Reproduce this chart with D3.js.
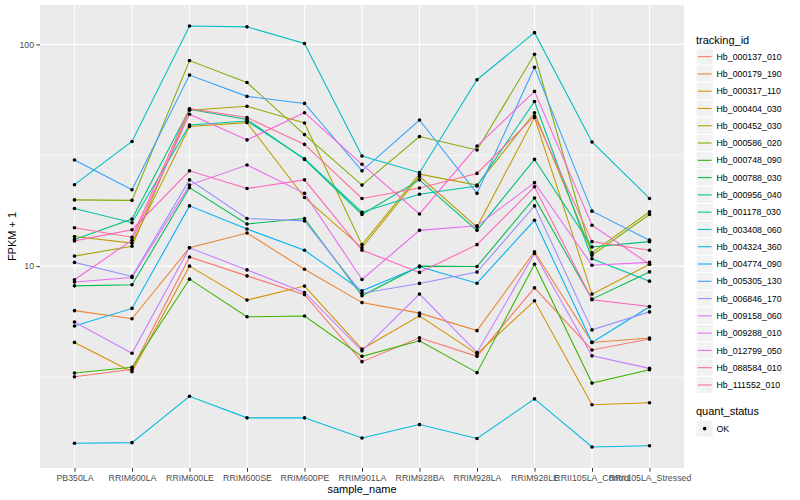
<!DOCTYPE html>
<html>
<head>
<meta charset="utf-8">
<script src="https://cdn.jsdelivr.net/npm/d3@7"></script>
<style>
  body { margin: 0; background: #fff; }
  svg text { font-family: "Liberation Sans", Arial, Helvetica, sans-serif; }
  .axis path { display: none; }
  .axis line { stroke: #333333; }
  .axis text { fill: #4D4D4D; font-size: 8.8px; }
</style>
</head>
<body>
<svg width="800" height="500"></svg>
<script>
var samples = ["PB350LA", "RRIM600LA", "RRIM600LE", "RRIM600SE", "RRIM600PE", "RRIM901LA",
  "RRIM928BA", "RRIM928LA", "RRIM928LE", "RRII105LA_Control", "RRII105LA_Stressed"];

var trackingIds = ["Hb_000137_010", "Hb_000179_190", "Hb_000317_110", "Hb_000404_030", "Hb_000452_030",
  "Hb_000586_020", "Hb_000748_090", "Hb_000788_030", "Hb_000956_040", "Hb_001178_030",
  "Hb_003408_060", "Hb_004324_360", "Hb_004774_090", "Hb_005305_130", "Hb_006846_170",
  "Hb_009158_060", "Hb_009288_010", "Hb_012799_050", "Hb_088584_010", "Hb_111552_010"];

// FPKM + 1, one array per tracking_id, in sample order
var hb000137 = [3.17, 3.43, 11.0, 9.04, 7.43, 3.71, 4.75, 3.92, 7.98, 4.19, 4.69];
var hb000179 = [6.30, 5.79, 12.1, 14.1, 9.69, 6.85, 6.14, 5.12, 11.6, 4.53, 4.74];
var hb000317 = [4.53, 3.34, 10.0, 7.03, 8.13, 4.23, 5.97, 4.02, 6.98, 2.37, 2.42];
var hb000404 = [13.6, 12.7, 42.6, 44.4, 20.4, 12.1, 25.4, 15.0, 46.8, 7.48, 10.2];
var hb000452 = [11.1, 12.3, 50.5, 52.6, 44.2, 12.5, 26.0, 23.2, 49.2, 11.5, 17.6];
var hb000586 = [19.9, 19.8, 84.5, 67.3, 39.2, 23.2, 38.4, 33.4, 90.2, 11.2, 17.1];
var hb000748 = [3.30, 3.50, 8.74, 5.91, 5.96, 3.92, 4.61, 3.31, 10.2, 2.97, 3.41];
var hb000788 = [8.15, 8.24, 22.6, 15.5, 16.4, 7.35, 10.0, 9.97, 20.3, 7.10, 9.42];
var hb000956 = [13.2, 16.3, 51.0, 45.9, 30.3, 17.1, 24.5, 14.5, 30.3, 12.2, 12.9];
var hb001178 = [18.2, 15.7, 43.3, 45.1, 30.5, 17.5, 21.1, 23.0, 55.3, 10.8, 8.56];
var hb003408 = [23.3, 36.5, 121, 120, 101, 31.4, 26.4, 69.3, 113, 36.3, 20.2];
var hb004324 = [1.59, 1.60, 2.59, 2.07, 2.07, 1.68, 1.93, 1.67, 2.52, 1.53, 1.55];
var hb004774 = [5.37, 6.45, 18.7, 14.7, 11.8, 7.74, 9.93, 8.38, 16.1, 4.53, 6.56];
var hb005305 = [30.1, 22.1, 72.7, 58.3, 54.2, 26.9, 45.6, 21.3, 78.8, 17.7, 13.1];
var hb006846 = [10.4, 8.99, 24.5, 16.4, 16.0, 7.55, 8.36, 9.40, 18.7, 5.16, 6.22];
var hb009158 = [5.60, 4.05, 12.1, 9.62, 7.61, 4.15, 7.48, 4.08, 11.4, 3.94, 3.46];
var hb009288 = [8.49, 8.89, 23.2, 28.6, 21.3, 8.71, 14.5, 15.2, 23.8, 10.1, 10.4];
var hb012799 = [8.68, 13.1, 48.4, 37.1, 49.2, 28.8, 17.2, 34.8, 61.4, 15.3, 10.2];
var hb088584 = [13.0, 14.6, 26.9, 22.4, 24.5, 11.8, 9.37, 12.5, 22.8, 7.05, 6.58];
var hb111552 = [14.9, 13.5, 51.3, 46.8, 35.4, 20.2, 22.5, 26.2, 47.5, 12.9, 11.8];

var seriesValues = [hb000137, hb000179, hb000317, hb000404, hb000452, hb000586, hb000748,
  hb000788, hb000956, hb001178, hb003408, hb004324, hb004774, hb005305, hb006846,
  hb009158, hb009288, hb012799, hb088584, hb111552];

var yTicks = [10, 100];
var yMinor = [Math.sqrt(10), Math.sqrt(1000)];
var statusLevels = ["OK"];

// ggplot default hue palette for 20 levels
var palette = ["#F8766D", "#EA8331", "#D89000", "#C09B00", "#A3A500", "#7CAE00", "#39B600",
  "#00BB4E", "#00BF7D", "#00C1A3", "#00BFC4", "#00BAE0", "#00B0F6", "#35A2FF", "#9590FF",
  "#C77CFF", "#E76BF3", "#FA62DB", "#FF62BC", "#FF6C91"];

var svg = d3.select("svg");
var panel = { left: 40, right: 684, top: 5, bottom: 468 };

var series = trackingIds.map(function(id, i) {
  return { id: id, values: seriesValues[i].map(function(v, j) { return { sample: samples[j], val: v }; }) };
});

var allVals = d3.merge(seriesValues);
var lo = Math.log10(d3.min(allVals)), hi = Math.log10(d3.max(allVals));
var pad = (hi - lo) * 0.05;

var xScale = d3.scalePoint().domain(samples).range([panel.left, panel.right]).padding(0.6);
var yScale = d3.scaleLog().domain([Math.pow(10, lo - pad), Math.pow(10, hi + pad)])
  .range([panel.bottom, panel.top]);
var color = d3.scaleOrdinal().domain(trackingIds).range(palette);

svg.append("rect").attr("width", 800).attr("height", 500).attr("fill", "#fff");
svg.append("rect")
  .attr("x", panel.left).attr("y", panel.top)
  .attr("width", panel.right - panel.left).attr("height", panel.bottom - panel.top)
  .attr("fill", "#EBEBEB");

var grid = svg.append("g");
grid.selectAll(".minor").data(yMinor).enter().append("line")
  .attr("x1", panel.left).attr("x2", panel.right)
  .attr("y1", function(d) { return yScale(d); }).attr("y2", function(d) { return yScale(d); })
  .attr("stroke", "#fff").attr("stroke-width", 0.55);
grid.selectAll(".major").data(yTicks).enter().append("line")
  .attr("x1", panel.left).attr("x2", panel.right)
  .attr("y1", function(d) { return yScale(d); }).attr("y2", function(d) { return yScale(d); })
  .attr("stroke", "#fff").attr("stroke-width", 1.07);
grid.selectAll(".vmajor").data(samples).enter().append("line")
  .attr("y1", panel.top).attr("y2", panel.bottom)
  .attr("x1", function(d) { return xScale(d); }).attr("x2", function(d) { return xScale(d); })
  .attr("stroke", "#fff").attr("stroke-width", 1.07);

var line = d3.line()
  .x(function(d) { return xScale(d.sample); })
  .y(function(d) { return yScale(d.val); });

svg.append("g").selectAll("path").data(series).enter().append("path")
  .attr("d", function(d) { return line(d.values); })
  .attr("fill", "none")
  .attr("stroke", function(d) { return color(d.id); })
  .attr("stroke-width", 1.07);

svg.append("g").selectAll("circle")
  .data(d3.merge(series.map(function(s) { return s.values; })))
  .enter().append("circle")
  .attr("cx", function(d) { return xScale(d.sample); })
  .attr("cy", function(d) { return yScale(d.val); })
  .attr("r", 1.8)
  .attr("fill", "#000");

svg.append("g")
  .attr("class", "axis")
  .attr("transform", "translate(0," + panel.bottom + ")")
  .call(d3.axisBottom(xScale).tickSize(3.7).tickPadding(3.5))
  .selectAll("text").attr("dy", "0.71em");

svg.append("g")
  .attr("class", "axis")
  .attr("transform", "translate(" + panel.left + ",0)")
  .call(d3.axisLeft(yScale).tickValues(yTicks).tickFormat(d3.format("d")).tickSize(3.7).tickPadding(2.2));

svg.append("text")
  .attr("x", (panel.left + panel.right) / 2).attr("y", 493)
  .attr("text-anchor", "middle").attr("font-size", "11px").attr("fill", "#000")
  .text("sample_name");

svg.append("text")
  .attr("transform", "translate(16," + (panel.top + panel.bottom) / 2 + ") rotate(-90)")
  .attr("text-anchor", "middle").attr("font-size", "11px").attr("fill", "#000")
  .text("FPKM + 1");

// legends
var legend = svg.append("g").attr("transform", "translate(696,0)");
legend.append("text").attr("x", 0).attr("y", 44).attr("font-size", "11px").attr("fill", "#000")
  .text("tracking_id");

var keys = legend.selectAll(".key").data(trackingIds).enter().append("g")
  .attr("transform", function(d, i) { return "translate(0," + (48 + i * 17.28) + ")"; });
keys.append("rect").attr("width", 17.28).attr("height", 17.28)
  .attr("fill", "#F2F2F2").attr("stroke", "#fff").attr("stroke-width", 1);
keys.append("line").attr("x1", 1.7).attr("x2", 15.6).attr("y1", 8.64).attr("y2", 8.64)
  .attr("stroke", function(d) { return color(d); }).attr("stroke-width", 1.07);
keys.append("text").attr("x", 20.5).attr("y", 11.8).attr("font-size", "8.8px").attr("fill", "#000")
  .text(function(d) { return d; });

legend.append("text").attr("x", 0).attr("y", 415).attr("font-size", "11px").attr("fill", "#000")
  .text("quant_status");

var skeys = legend.selectAll(".skey").data(statusLevels).enter().append("g")
  .attr("transform", function(d, i) { return "translate(0," + (420 + i * 17.28) + ")"; });
skeys.append("rect").attr("width", 17.28).attr("height", 17.28)
  .attr("fill", "#F2F2F2").attr("stroke", "#fff").attr("stroke-width", 1);
skeys.append("circle").attr("cx", 8.64).attr("cy", 8.64).attr("r", 1.8).attr("fill", "#000");
skeys.append("text").attr("x", 20.5).attr("y", 11.8).attr("font-size", "8.8px").attr("fill", "#000")
  .text(function(d) { return d; });
</script>
</body>
</html>
